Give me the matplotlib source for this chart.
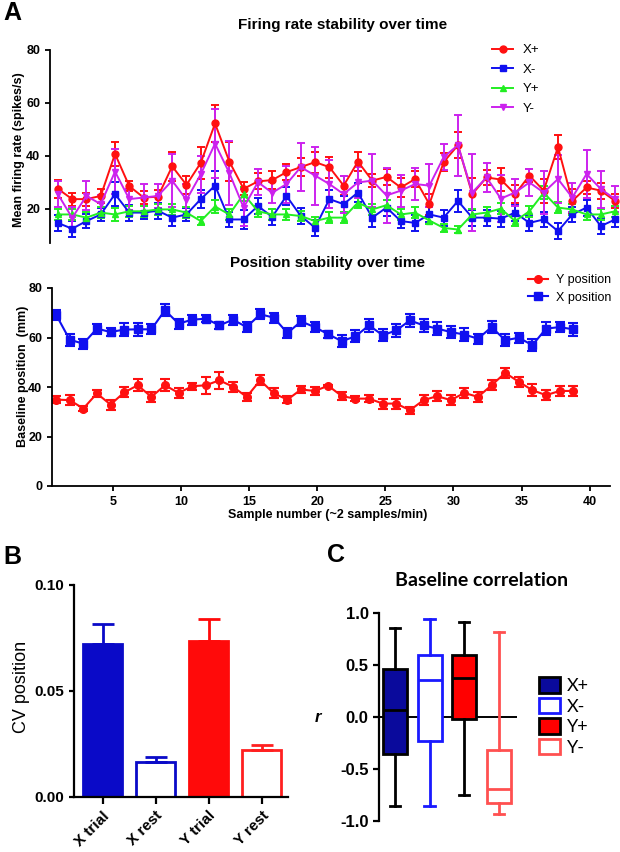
import numpy as np
import matplotlib
matplotlib.use('Agg')
import matplotlib.pyplot as plt
from matplotlib.patches import Patch
from matplotlib.lines import Line2D

plt.rcParams['font.family'] = ['Liberation Sans', 'DejaVu Sans']
plt.rcParams['axes.unicode_minus'] = False

W, H = 620, 852

# ---- panel A (top): firing rate, 40 samples ----
fr_sample = np.arange(1, 41)
xp_rate = [27.5, 23.6, 23.6, 24.8, 40.7, 28.5, 24.2, 24.5, 36.0, 29.0, 37.3, 52.2, 37.8, 27.5, 30.3, 30.8, 33.8, 35.7, 37.6, 35.7,
           28.7, 37.8, 30.6, 32.0, 28.0, 31.2, 21.7, 37.6, 44.0, 25.5, 31.8, 31.0, 25.5, 32.5, 26.8, 43.3, 22.9, 28.0, 26.8, 22.9]
xp_err = [3.5, 2.5, 2.5, 2.5, 4.5, 2.0, 2.5, 2.5, 5.5, 3.5, 6.0, 7.0, 7.5, 2.5, 3.0, 3.5, 3.0, 3.5, 4.0, 4.0,
          3.5, 3.5, 2.5, 3.0, 3.5, 3.0, 4.0, 3.5, 5.0, 6.0, 3.0, 4.5, 3.5, 2.5, 4.5, 4.5, 4.5, 2.5, 3.0, 2.5]
xm_rate = [14.6, 12.4, 15.3, 17.8, 25.5, 18.5, 18.5, 19.2, 16.6, 17.8, 23.6, 28.7, 15.9, 15.9, 21.0, 16.9, 24.8, 17.2, 12.8, 23.6,
           21.7, 26.1, 16.6, 20.4, 15.3, 14.6, 17.8, 16.6, 22.9, 16.6, 16.6, 16.2, 18.5, 14.6, 15.9, 11.5, 17.8, 20.4, 13.4, 15.9]
xm_err = [3.0, 3.0, 2.5, 2.5, 4.5, 3.0, 2.5, 3.0, 3.0, 2.5, 3.5, 5.5, 3.0, 3.5, 3.0, 3.0, 3.5, 3.0, 3.0, 3.5,
          3.0, 3.5, 3.5, 3.0, 2.5, 3.0, 3.0, 3.0, 4.0, 3.0, 3.0, 3.0, 3.0, 3.0, 3.0, 3.0, 3.0, 3.0, 3.0, 3.0]
yp_rate = [17.8, 17.8, 16.6, 18.5, 17.8, 19.0, 19.0, 19.7, 19.7, 18.5, 15.3, 20.8, 17.8, 25.5, 19.0, 17.8, 17.8, 17.2, 15.3, 16.6,
           16.6, 22.3, 19.7, 21.3, 17.8, 18.5, 15.5, 12.7, 12.1, 17.8, 18.5, 20.0, 15.3, 19.0, 26.0, 20.4, 19.7, 17.8, 17.8, 19.0]
yp_err = [2.0, 2.0, 2.0, 2.0, 2.5, 2.0, 2.0, 2.0, 2.0, 2.0, 1.5, 2.5, 2.0, 2.5, 2.0, 2.0, 2.0, 2.0, 1.5, 2.0,
          2.0, 2.0, 2.0, 2.0, 2.0, 2.0, 1.5, 1.5, 1.5, 2.0, 2.0, 2.0, 2.0, 2.0, 2.5, 2.0, 2.0, 2.0, 2.0, 2.0]
ym_rate = [25.5, 16.5, 24.8, 21.7, 34.0, 23.6, 24.2, 24.8, 30.6, 23.3, 33.0, 44.6, 33.5, 20.4, 30.0, 26.0, 29.3, 35.7, 32.5, 29.3,
           25.5, 29.9, 30.6, 25.0, 26.8, 29.3, 28.7, 39.5, 44.0, 26.1, 31.8, 23.8, 26.1, 29.9, 26.1, 31.2, 24.2, 33.1, 27.4, 23.6]
ym_err = [5.0, 4.0, 5.5, 3.5, 8.5, 4.0, 5.0, 4.5, 10.0, 6.0, 7.0, 13.0, 12.0, 7.0, 5.0, 4.0, 7.0, 9.0, 11.0, 9.0,
          7.0, 6.0, 10.0, 10.5, 6.0, 6.0, 8.0, 5.0, 11.5, 14.5, 5.5, 9.0, 5.0, 5.0, 8.0, 9.0, 5.5, 9.0, 7.0, 5.0]

# ---- panel A (bottom): position, 39 samples ----
pos_sample = np.arange(1, 40)
x_pos = [69.2, 59.1, 57.5, 63.6, 62.2, 63.2, 63.3, 63.3, 71.0, 65.6, 67.2, 67.6, 64.9, 67.2, 64.2, 69.4, 68.0, 61.8, 66.5, 64.2,
         61.3, 58.5, 60.5, 64.9, 60.9, 62.9, 66.9, 64.9, 63.6, 62.2, 61.2, 59.5, 64.2, 58.9, 59.9, 56.9, 63.6, 64.2, 63.3]
x_pos_err = [2.0, 2.5, 2.0, 2.0, 1.5, 2.5, 2.5, 2.0, 2.5, 2.0, 2.0, 1.5, 1.5, 2.0, 2.0, 2.0, 2.0, 2.0, 2.0, 2.0,
             1.5, 2.5, 2.5, 2.5, 2.5, 2.5, 2.5, 2.5, 2.5, 2.5, 2.5, 2.0, 2.5, 2.5, 2.0, 2.5, 2.5, 2.0, 2.5]
y_pos = [34.9, 34.7, 31.3, 37.4, 32.9, 37.8, 40.7, 36.0, 40.7, 37.6, 40.3, 40.7, 42.7, 40.1, 36.0, 42.7, 37.4, 34.9, 39.0, 38.4,
         40.5, 36.3, 35.3, 35.3, 33.3, 33.3, 30.6, 34.7, 36.3, 34.7, 37.6, 36.0, 40.7, 45.7, 42.1, 38.7, 36.7, 38.4, 38.4]
y_pos_err = [1.5, 2.0, 1.0, 1.5, 2.0, 2.0, 2.5, 2.0, 2.5, 2.0, 1.5, 3.5, 3.5, 2.0, 1.5, 2.0, 2.0, 1.5, 1.5, 1.5,
             0.5, 1.5, 1.0, 1.5, 2.0, 2.0, 1.5, 2.0, 2.0, 2.0, 2.0, 2.0, 2.0, 2.0, 2.0, 2.5, 2.0, 2.0, 2.0]

# ---- panel B ----
cv_labels = ['X trial', 'X rest', 'Y trial', 'Y rest']
cv_mean = [0.0720, 0.0165, 0.0737, 0.0224]
cv_err = [0.0094, 0.0022, 0.0104, 0.0020]

# ---- panel C ----
corr_labels = ['X+', 'X-', 'Y+', 'Y-']
corr_med = [0.065, 0.355, 0.377, -0.694]
corr_q1 = [-0.36, -0.226, -0.016, -0.823]
corr_q3 = [0.46, 0.60, 0.60, -0.316]
corr_lo = [-0.855, -0.855, -0.75, -0.93]
corr_hi = [0.86, 0.945, 0.91, 0.816]

RED = '#ff1010'
BLUE = '#1010f0'
GREEN = '#22ee22'
MAG = '#cc22ee'


def px_axes(fig, l, t, r, b):
    return fig.add_axes([l / W, 1 - b / H, (r - l) / W, (b - t) / H])


def style(ax, lw=1.3):
    for s in ['top', 'right']:
        ax.spines[s].set_visible(False)
    for s in ['left', 'bottom']:
        ax.spines[s].set_linewidth(lw)
    ax.tick_params(width=lw, length=3.5, direction='out')


fig = plt.figure(figsize=(W / 100, H / 100), dpi=100)

# ===== firing rate =====
ax1 = px_axes(fig, 50, 50, 628, 243)
style(ax1)
ax1.spines['bottom'].set_visible(False)
ax1.tick_params(axis='x', bottom=False, labelbottom=False)
kw = dict(lw=1.4, elinewidth=1.4, capsize=3, capthick=1.4, ms=5)
ax1.errorbar(fr_sample, xp_rate, yerr=xp_err, fmt='-o', color=RED, label='X+', **kw)
ax1.errorbar(fr_sample, xm_rate, yerr=xm_err, fmt='-s', color=BLUE, label='X-', **kw)
ax1.errorbar(fr_sample, yp_rate, yerr=yp_err, fmt='-^', color=GREEN, label='Y+', **kw)
ax1.errorbar(fr_sample, ym_rate, yerr=ym_err, fmt='-v', color=MAG, label='Y-', **kw)
ax1.set_xlim(0.45, 40.9)
ax1.set_ylim(7, 80)
ax1.set_yticks([20, 40, 60, 80])
for t in ax1.get_yticklabels():
    t.set_fontweight('bold')
    t.set_fontsize(9)
h1 = [Line2D([], [], color=c, marker=m, lw=1.4, ms=5) for c, m in [(RED, 'o'), (BLUE, 's'), (GREEN, '^'), (MAG, 'v')]]
ax1.legend(h1, ['X+', 'X-', 'Y+', 'Y-'], loc='upper left', bbox_to_anchor=(492 / W, 1 - 44 / H),
           bbox_transform=fig.transFigure, frameon=False, fontsize=9.5, handlelength=1.6,
           handletextpad=0.7, labelspacing=0.55, borderpad=0, borderaxespad=0)
fig.text(343 / W, 1 - 25 / H, 'Firing rate stability over time', ha='center', va='center',
         fontsize=11, fontweight='bold')
fig.text(19 / W, 1 - 150 / H, 'Mean firing rate (spikes/s)', rotation=90, ha='center', va='center',
         fontsize=9, fontweight='bold')
fig.text(3 / W, 1 - 13 / H, 'A', ha='left', va='center', fontsize=18, fontweight='bold')

# ===== position =====
ax2 = px_axes(fig, 52, 288, 610, 486)
style(ax2)
kw2 = dict(lw=1.5, elinewidth=1.5, capsize=3.3, capthick=1.5, ms=5.5)
ax2.errorbar(pos_sample - 0.2, y_pos, yerr=y_pos_err, fmt='-o', color=RED, **kw2)
ax2.errorbar(pos_sample - 0.2, x_pos, yerr=x_pos_err, fmt='-s', color=BLUE, **kw2)
ax2.set_xlim(0.5, 41.5)
ax2.set_ylim(0, 80)
ax2.set_xticks([5, 10, 15, 20, 25, 30, 35, 40])
ax2.set_yticks([0, 20, 40, 60, 80])
for t in ax2.get_xticklabels() + ax2.get_yticklabels():
    t.set_fontweight('bold')
    t.set_fontsize(9)
h2 = [Line2D([], [], color=RED, marker='o', lw=1.5, ms=5.5), Line2D([], [], color=BLUE, marker='s', lw=1.5, ms=5.5)]
ax2.legend(h2, ['Y position', 'X position'], loc='upper left', bbox_to_anchor=(528 / W, 1 - 274 / H),
           bbox_transform=fig.transFigure, frameon=False, fontsize=9, handlelength=1.6,
           handletextpad=0.6, labelspacing=0.45, borderpad=0, borderaxespad=0)
fig.text(328 / W, 1 - 263 / H, 'Position stability over time', ha='center', va='center',
         fontsize=11, fontweight='bold')
fig.text(23 / W, 1 - 376 / H, 'Baseline position  (mm)', rotation=90, ha='center', va='center',
         fontsize=9, fontweight='bold')
fig.text(328 / W, 1 - 515 / H, 'Sample number (~2 samples/min)', ha='center', va='center',
         fontsize=9, fontweight='bold')

# ===== B =====
ax3 = px_axes(fig, 74, 585, 288, 797)
style(ax3, lw=1.6)
bpos = np.arange(len(cv_labels))
fills = ['#0a0ac8', 'white', '#ff0a0a', 'white']
edges = ['#0a0ac8', '#0a0ac8', '#ff0a0a', '#ff2020']
ax3.bar(bpos, cv_mean, width=0.74, color=fills, edgecolor=edges, linewidth=2)
for i in range(len(bpos)):
    ax3.errorbar(bpos[i], cv_mean[i], yerr=[[0], [cv_err[i]]], fmt='none', ecolor=edges[i],
                 elinewidth=2, capsize=8, capthick=2)
ax3.set_xlim(-0.54, 3.5)
ax3.set_ylim(0, 0.10)
ax3.set_yticks([0.0, 0.05, 0.10])
ax3.set_yticklabels(['0.00', '0.05', '0.10'], fontsize=11, fontweight='bold')
ax3.set_xticks(bpos)
ax3.set_xticklabels(cv_labels, rotation=45, ha='right', rotation_mode='anchor', fontsize=11, fontweight='bold')
ax3.tick_params(axis='x', length=5)
fig.text(22 / W, 1 - 687 / H, 'CV position', rotation=90, ha='center', va='center', fontsize=13)
fig.text(3 / W, 1 - 557 / H, 'B', ha='left', va='center', fontsize=18, fontweight='bold')

# ===== C =====
ax4 = px_axes(fig, 379, 613, 517, 821)
for s in ['top', 'right', 'bottom']:
    ax4.spines[s].set_visible(False)
ax4.spines['left'].set_linewidth(1.6)
ax4.tick_params(axis='y', width=1.6, length=4)
ax4.tick_params(axis='x', bottom=False, labelbottom=False)
ax4.axhline(0, color='black', lw=1.4, zorder=0)
box_face = ['#0a0a9c', 'white', '#ff0000', 'white']
box_edge = ['black', '#1a1aff', 'black', '#ff5050']
whisk_col = ['black', '#1a1aff', 'black', '#ff5050']
for i in range(len(corr_labels)):
    st = [dict(med=corr_med[i], q1=corr_q1[i], q3=corr_q3[i], whislo=corr_lo[i], whishi=corr_hi[i], fliers=[])]
    ax4.bxp(st, positions=[i + 1], widths=0.69, capwidths=0.3, patch_artist=True, showfliers=False,
            boxprops=dict(facecolor=box_face[i], edgecolor=box_edge[i], linewidth=2),
            medianprops=dict(color=box_edge[i], linewidth=2),
            whiskerprops=dict(color=whisk_col[i], linewidth=2),
            capprops=dict(color=whisk_col[i], linewidth=2))
ax4.set_xlim(0.54, 4.52)
ax4.set_ylim(-1.0, 1.0)
ax4.set_yticks([-1.0, -0.5, 0.0, 0.5, 1.0])
ax4.set_yticklabels(['-1.0', '-0.5', '0.0', '0.5', '1.0'], fontsize=12, fontweight='bold')
h4 = [Patch(facecolor=box_face[i], edgecolor=box_edge[i], linewidth=2) for i in range(4)]
ax4.legend(h4, corr_labels, loc='upper left', bbox_to_anchor=(539 / W, 1 - 677 / H),
           bbox_transform=fig.transFigure, frameon=False, handlelength=1.15, handleheight=0.95,
           handletextpad=0.4, labelspacing=0.2, borderpad=0, borderaxespad=0,
           prop=dict(family='Lato', size=13))
fig.text(318 / W, 1 - 717 / H, 'r', ha='center', va='center', fontsize=12, fontweight='bold', style='italic')
fig.text(482 / W, 1 - 580 / H, 'Baseline correlation', ha='center', va='center', fontsize=14,
         fontweight='bold', family='Lato')
fig.text(327 / W, 1 - 555 / H, 'C', ha='left', va='center', fontsize=18, fontweight='bold')

fig.savefig('out.png', dpi=100)
